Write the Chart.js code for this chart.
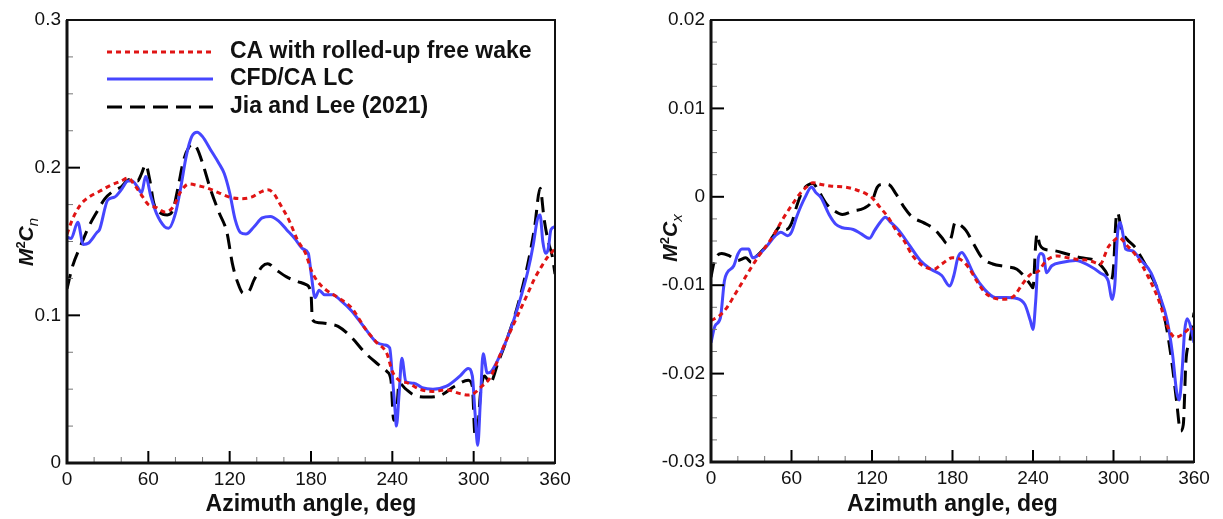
<!DOCTYPE html>
<html>
<head>
<meta charset="utf-8">
<script src="https://cdn.jsdelivr.net/npm/chart.js@4.4.0/dist/chart.umd.min.js"></script>
<style>
html, body { margin: 0; padding: 0; background: #fff; }
#wrap { position: relative; width: 1223px; height: 519px; }
canvas { position: absolute; top: 0; }
</style>
</head>
<body>
<div id="wrap">
  <canvas id="cnChart" width="611" height="519" style="left:0"></canvas>
  <canvas id="cxChart" width="612" height="519" style="left:611px"></canvas>
</div>
<script>
// legend / series names
var seriesNames = ["CA with rolled-up free wake", "CFD/CA LC", "Jia and Lee (2021)"];

// major tick labels
var azMajor = [0, 60, 120, 180, 240, 300, 360];
var cnMajor = [0, 0.1, 0.2, 0.3];
var cxMajor = [-0.03, -0.02, -0.01, 0, 0.01, 0.02];

// ---- M^2 Cn (left) ----
var cnRedDeg = [0,4,10,16,24,32,40,45,50,56,60,66,72,78,84,90,96,104,112,120,128,136,144,148,152,158,164,170,176,180,184,190,200,210,220,228,236,240,245,252,260,270,280,290,296,300,306,312,318,325,330,335,340,345,350,355,360];
var cnRed = [0.155,0.165,0.175,0.180,0.184,0.188,0.191,0.193,0.188,0.180,0.175,0.173,0.170,0.173,0.184,0.189,0.188,0.186,0.183,0.180,0.179,0.180,0.184,0.185,0.183,0.174,0.164,0.151,0.142,0.131,0.124,0.118,0.112,0.105,0.091,0.082,0.074,0.062,0.056,0.054,0.050,0.0485,0.0495,0.047,0.046,0.047,0.052,0.0575,0.070,0.085,0.095,0.105,0.115,0.125,0.133,0.140,0.145];

var cnBlueDeg = [0,3,8,12,16,22,24,30,35,40,45,48,52,55,58,62,66,72,75,80,84,88,92,96,100,106,112,116,120,124,128,132,138,144,150,156,162,168,174,178,180,183,186,190,196,202,210,220,228,234,238,240,242,243,245,247,250,256,262,270,280,290,296,299,301,303,305,307,310,313,319,325,330,335,340,344,347,349,351,353,355,357,360];
var cnBlue = [0.153,0.152,0.163,0.148,0.149,0.156,0.158,0.178,0.180,0.185,0.191,0.191,0.187,0.183,0.194,0.180,0.169,0.160,0.159,0.169,0.187,0.208,0.221,0.224,0.221,0.212,0.203,0.196,0.183,0.165,0.156,0.155,0.160,0.166,0.167,0.164,0.158,0.152,0.145,0.142,0.129,0.112,0.117,0.114,0.114,0.110,0.103,0.091,0.082,0.080,0.078,0.059,0.036,0.025,0.047,0.071,0.055,0.054,0.051,0.050,0.052,0.059,0.064,0.059,0.034,0.012,0.043,0.074,0.061,0.062,0.072,0.085,0.098,0.113,0.130,0.148,0.165,0.168,0.150,0.142,0.145,0.158,0.160];

var cnBlackDeg = [0,4,10,16,22,28,34,40,46,52,55,58,61,64,68,74,78,82,86,90,93,96,100,106,112,118,122,126,130,134,138,144,148,154,162,170,176,180,181,186,194,200,210,220,230,236,239,241,243,245,250,256,266,276,286,296,299,301,303,305,308,312,318,325,332,340,345,349,352,355,358,360];
var cnBlack = [0.118,0.133,0.147,0.160,0.170,0.179,0.184,0.187,0.192,0.191,0.196,0.202,0.192,0.176,0.170,0.168,0.171,0.187,0.205,0.214,0.216,0.213,0.203,0.185,0.170,0.156,0.135,0.122,0.115,0.116,0.124,0.133,0.135,0.131,0.126,0.123,0.121,0.115,0.097,0.095,0.094,0.0925,0.085,0.0745,0.0665,0.062,0.056,0.029,0.033,0.054,0.050,0.046,0.0447,0.046,0.052,0.056,0.052,0.019,0.023,0.047,0.059,0.054,0.068,0.085,0.105,0.135,0.160,0.186,0.165,0.150,0.140,0.128];

// ---- M^2 Cx (right) ----
var cxRedDeg = [0,6,12,18,24,30,36,42,48,54,60,66,72,76,82,90,100,108,116,120,126,132,138,144,150,158,166,172,180,186,192,198,204,210,218,226,232,238,244,250,258,266,274,282,290,296,300,304,310,318,326,334,340,346,352,358,360];
var cxRed = [-0.0140,-0.0135,-0.0125,-0.0110,-0.0095,-0.0080,-0.0066,-0.0054,-0.0040,-0.0024,-0.0010,0.0003,0.0012,0.0016,0.0014,0.0012,0.0011,0.0008,0.0003,-0.0001,-0.0012,-0.0023,-0.0038,-0.0050,-0.0066,-0.0078,-0.0082,-0.0076,-0.0069,-0.0071,-0.0080,-0.0095,-0.0108,-0.0114,-0.0116,-0.0112,-0.0099,-0.0088,-0.0084,-0.0072,-0.0067,-0.0069,-0.0071,-0.0072,-0.0076,-0.0057,-0.0050,-0.0046,-0.0055,-0.0069,-0.0091,-0.0118,-0.0146,-0.0159,-0.0155,-0.0148,-0.0150];

var cxBlueDeg = [0,3,7,10,12,17,20,23,28,31,36,42,48,52,57,60,64,70,75,78,82,88,93,98,106,112,118,122,126,130,134,140,148,156,164,172,178,181,184,187,190,196,204,212,220,228,234,238,240,242,244,246,248,250,254,262,272,282,290,296,299,301,303,305,307,309,314,320,328,334,340,344,347,349,351,353,355,358,360];
var cxBlue = [-0.0165,-0.0146,-0.0137,-0.0095,-0.0086,-0.0078,-0.0065,-0.0059,-0.0059,-0.0069,-0.0065,-0.0055,-0.0044,-0.0040,-0.0044,-0.0040,-0.0022,-0.0001,0.0011,0.0005,-0.0001,-0.0020,-0.0031,-0.0035,-0.0037,-0.0042,-0.0047,-0.0038,-0.0029,-0.0023,-0.0029,-0.0038,-0.0055,-0.0072,-0.0082,-0.0089,-0.0101,-0.0089,-0.0069,-0.0063,-0.0069,-0.0088,-0.0105,-0.0114,-0.0114,-0.0115,-0.0122,-0.0140,-0.0150,-0.0118,-0.0069,-0.0064,-0.0067,-0.0086,-0.0078,-0.0074,-0.0072,-0.0078,-0.0086,-0.0095,-0.0116,-0.0099,-0.0042,-0.0029,-0.0042,-0.0059,-0.0061,-0.0071,-0.0086,-0.0110,-0.0140,-0.0178,-0.0220,-0.0230,-0.0200,-0.0152,-0.0138,-0.0150,-0.0165];

var cxBlackDeg = [0,2,4,8,14,20,26,30,34,40,46,52,56,60,64,68,72,76,80,86,92,98,106,114,120,124,128,132,138,144,150,158,166,172,176,179,182,185,190,196,202,210,220,228,234,238,240,242,243,245,248,256,266,276,286,294,298,300,302,303,306,310,316,322,328,334,340,344,347,350,352,354,357,360];
var cxBlack = [-0.0091,-0.0076,-0.0068,-0.0064,-0.0067,-0.0072,-0.0069,-0.0074,-0.0067,-0.0058,-0.0045,-0.0033,-0.0037,-0.0030,-0.0010,0.0006,0.0013,0.0015,0.0007,-0.0008,-0.0016,-0.0020,-0.0016,-0.0013,-0.0005,0.0011,0.0014,0.0014,0.0003,-0.0012,-0.0023,-0.0029,-0.0036,-0.0046,-0.0053,-0.0046,-0.0029,-0.0031,-0.0038,-0.0054,-0.0069,-0.0076,-0.0079,-0.0082,-0.0091,-0.0099,-0.0103,-0.0054,-0.0042,-0.0054,-0.0059,-0.0061,-0.0065,-0.0069,-0.0072,-0.0084,-0.0095,-0.0080,-0.0023,-0.0018,-0.0038,-0.0048,-0.0057,-0.0072,-0.0089,-0.0110,-0.0152,-0.0193,-0.0231,-0.0265,-0.0258,-0.0186,-0.0163,-0.0131];

var FONT = '"Liberation Sans", Arial, sans-serif';

function pts(xs, ys) {
    return xs.map(function (x, i) { return { x: x, y: ys[i] }; });
}

function isMajor(v, majors) {
    return majors.some(function (m) { return Math.abs(m - v) < 1e-9; });
}

function fmt(v) {
    return String(Number(v.toFixed(4)));
}

// axes box, inward ticks, axis titles and the legend
var framePlugin = {
    id: 'frame',
    afterDatasetsDraw: function (chart, args, opts) {
        var ctx = chart.ctx, a = chart.chartArea;
        var xs = chart.scales.x, ys = chart.scales.y;
        ctx.save();

        xs.ticks.forEach(function (t) {
            var major = isMajor(t.value, azMajor);
            var p = xs.getPixelForValue(t.value);
            ctx.beginPath();
            ctx.lineWidth = major ? 2 : 1;
            ctx.strokeStyle = major ? '#000' : '#777';
            ctx.moveTo(p, a.bottom);
            ctx.lineTo(p, a.bottom - (major ? 12 : 6));
            ctx.stroke();
        });
        ys.ticks.forEach(function (t) {
            var major = isMajor(t.value, opts.yMajor);
            var p = ys.getPixelForValue(t.value);
            ctx.beginPath();
            ctx.lineWidth = major ? 2 : 1;
            ctx.strokeStyle = major ? '#000' : '#777';
            ctx.moveTo(a.left, p);
            ctx.lineTo(a.left + (major ? 13 : 6), p);
            ctx.stroke();
        });

        ctx.strokeStyle = '#111';
        ctx.lineWidth = 2;
        ctx.strokeRect(a.left, a.top, a.right - a.left, a.bottom - a.top);
        ctx.lineWidth = 3;
        ctx.beginPath();
        ctx.moveTo(a.left, a.top);
        ctx.lineTo(a.left, a.bottom);
        ctx.lineTo(a.right, a.bottom);
        ctx.stroke();

        // x title
        ctx.fillStyle = '#111';
        ctx.font = 'bold 23px ' + FONT;
        ctx.textAlign = 'center';
        ctx.textBaseline = 'middle';
        ctx.fillText('Azimuth angle, deg', (a.left + a.right) / 2, 505);

        // y title M^2 C_sub, rotated
        var parts = [
            { t: 'M', f: 'italic bold 21px ' + FONT, dy: 0 },
            { t: '2', f: 'bold 13px ' + FONT, dy: -8 },
            { t: 'C', f: 'italic bold 21px ' + FONT, dy: 0 },
            { t: opts.sub, f: 'italic 15px ' + FONT, dy: 5 }
        ];
        var total = 0;
        parts.forEach(function (p) { ctx.font = p.f; p.w = ctx.measureText(p.t).width; total += p.w; });
        ctx.translate(a.left - opts.yTitleOff, opts.yTitleY);
        ctx.rotate(-Math.PI / 2);
        ctx.textAlign = 'left';
        ctx.textBaseline = 'alphabetic';
        var cx = -total / 2;
        parts.forEach(function (p) {
            ctx.font = p.f;
            ctx.fillText(p.t, cx, 8 + p.dy);
            cx += p.w;
        });
        ctx.setTransform(1, 0, 0, 1, 0, 0);

        if (opts.legend) {
            var rows = [52, 79, 107];
            chart.data.datasets.forEach(function (ds, i) {
                ctx.beginPath();
                ctx.strokeStyle = ds.borderColor;
                ctx.lineWidth = ds.borderWidth;
                ctx.setLineDash(ds.borderDash || []);
                ctx.moveTo(107, rows[i]);
                ctx.lineTo(213, rows[i]);
                ctx.stroke();
                ctx.setLineDash([]);
                ctx.fillStyle = '#111';
                ctx.font = 'bold 23px ' + FONT;
                ctx.textAlign = 'left';
                ctx.textBaseline = 'middle';
                ctx.fillText(ds.label, 230, rows[i]);
            });
        }
        ctx.restore();
    }
};

function makeChart(id, sets, yMin, yMax, yStep, yMajor, opts) {
    var styles = [
        { borderColor: '#e01414', borderDash: [5, 4] },
        { borderColor: '#4646ff', borderDash: [] },
        { borderColor: '#000000', borderDash: [15, 8] }
    ];
    return new Chart(document.getElementById(id).getContext('2d'), {
        type: 'line',
        data: {
            datasets: sets.map(function (s, i) {
                return {
                    label: seriesNames[i],
                    data: s,
                    borderColor: styles[i].borderColor,
                    borderDash: styles[i].borderDash,
                    borderWidth: 3,
                    pointRadius: 0,
                    fill: false,
                    cubicInterpolationMode: 'monotone'
                };
            })
        },
        options: {
            responsive: false,
            animation: false,
            devicePixelRatio: 1,
            layout: { padding: { left: 0, top: 20, right: opts.padRight, bottom: 0 } },
            plugins: {
                legend: { display: false },
                tooltip: { enabled: false },
                frame: { yMajor: yMajor, sub: opts.sub, yTitleOff: 42, yTitleY: opts.yTitleY, legend: opts.legend }
            },
            scales: {
                x: {
                    type: 'linear', min: 0, max: 360,
                    grid: { display: false, drawTicks: false },
                    border: { display: false },
                    ticks: {
                        stepSize: 20, maxTicksLimit: 100, autoSkip: false, maxRotation: 0, padding: 5,
                        color: '#111', font: { family: FONT, size: 19 },
                        callback: function (v) { return isMajor(v, azMajor) ? fmt(v) : ''; }
                    },
                    afterFit: function (s) { s.height = opts.xHeight; s.paddingLeft = 0; s.paddingRight = 0; }
                },
                y: {
                    type: 'linear', min: yMin, max: yMax,
                    grid: { display: false, drawTicks: false },
                    border: { display: false },
                    ticks: {
                        stepSize: yStep, maxTicksLimit: 100, autoSkip: false, padding: 6,
                        color: '#111', font: { family: FONT, size: 19 },
                        callback: function (v) { return isMajor(v, yMajor) ? fmt(v) : ''; }
                    },
                    afterFit: function (s) { s.width = opts.yWidth; s.paddingTop = 0; s.paddingBottom = 0; }
                }
            }
        },
        plugins: [framePlugin]
    });
}

makeChart('cnChart',
    [pts(cnRedDeg, cnRed), pts(cnBlueDeg, cnBlue), pts(cnBlackDeg, cnBlack)],
    0, 0.3, 0.025, cnMajor,
    { padRight: 56, xHeight: 56, yWidth: 67, sub: 'n', yTitleY: 242, legend: true });

makeChart('cxChart',
    [pts(cxRedDeg, cxRed), pts(cxBlueDeg, cxBlue), pts(cxBlackDeg, cxBlack)],
    -0.03, 0.02, 0.0025, cxMajor,
    { padRight: 29, xHeight: 57, yWidth: 100, sub: 'x', yTitleY: 238, legend: false });
</script>
</body>
</html>
